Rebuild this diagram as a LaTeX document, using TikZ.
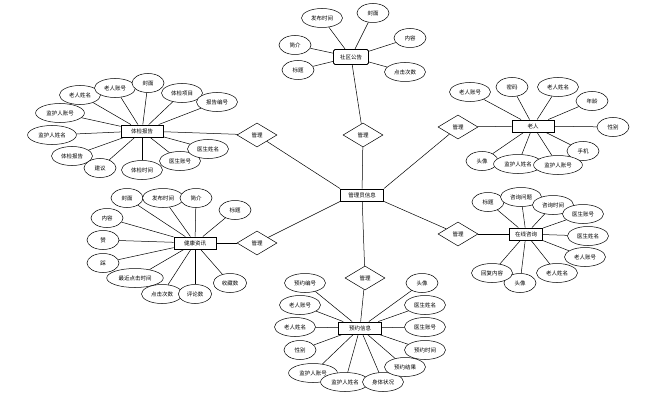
\documentclass[tikz,border=0pt]{standalone}
\usepackage{fontspec}
\newfontfamily\cjk{Noto Sans CJK SC}
\usetikzlibrary{shapes.geometric,positioning}

\begin{document}
\begin{tikzpicture}[x=1pt, y=-1pt, line width=0.5pt, font=\cjk\fontsize{5.5}{6}\selectfont]
   \useasboundingbox (0,0) rectangle (670,404);
   \tikzset{ent/.style={draw, line width=0.9pt, fill=white, minimum width=42pt, minimum height=12pt, inner sep=1pt},
            attr/.style={ellipse, draw, fill=white, minimum width=32pt, minimum height=19pt, inner xsep=3.5pt, inner ysep=0pt},
            rel/.style={diamond, draw, fill=white, minimum width=40pt, minimum height=24pt, inner sep=0pt}}
   % entities and relations
   \node (admin) [ent, minimum width=43pt] at (362,195) {管理员信息};
   \node (notice) [ent, minimum width=35pt, minimum height=15pt, rounded corners=1.5pt] at (351,57) {社区公告};
   \node (elder) [ent] at (533,126) {老人};
   \node (report) [ent] at (142,131) {体检报告};
   \node (news) [ent] at (195,243) {健康资讯};
   \node (consult) [ent, minimum width=33pt] at (526,234) {在线咨询};
   \node (booking) [ent, minimum width=43pt] at (360,328) {预约信息};
   \node (m1) [rel] at (363,135) {管理};
   \node (m2) [rel] at (257,135) {管理};
   \node (m3) [rel] at (257,243) {管理};
   \node (m4) [rel] at (458,127) {管理};
   \node (m5) [rel] at (458,234) {管理};
   \node (m6) [rel] at (365,278) {管理};
   \begin{scope}
    \draw (admin) -- (m1);
    \draw (admin.north west) -- (m2);
    \draw (admin.south west) -- (m3);
    \draw (admin.north east) -- (m4);
    \draw (admin.south east) -- (m5);
    \draw (admin) -- (m6);
    \draw (m1) -- (notice);
    \draw (m2) -- (report);
    \draw (m3) -- (news);
    \draw (m4) -- (elder);
    \draw (m5) -- (consult);
    \draw (m6) -- (booking);
   \end{scope}
   % 社区公告
   \begin{scope}[every node/.style={attr}]
    \node (notice1) at (322,18) {发布时间};
    \node (notice2) at (373,13) {封面};
    \node (notice3) at (295,45) {简介};
    \node (notice4) at (298,70) {标题};
    \node (notice5) at (410,38) {内容};
    \node (notice6) at (405,72) {点击次数};
   \end{scope}
   \foreach \i in {1,...,6} \draw (notice\i) -- (notice);
   % 老人
   \begin{scope}[every node/.style={attr}]
    \node (elder1) at (470,92) {老人账号};
    \node (elder2) at (512,87) {密码};
    \node (elder3) at (558,87) {老人姓名};
    \node (elder4) at (592,101) {年龄};
    \node (elder5) at (613,127) {性别};
    \node (elder6) at (583,151) {手机};
    \node (elder7) at (482,161) {头像};
    \node (elder8) at (518,164) {监护人姓名};
    \node (elder9) at (558,165) {监护人账号};
   \end{scope}
   \foreach \i in {1,...,9} \draw (elder\i) -- (elder);
   % 体检报告
   \begin{scope}[every node/.style={attr}]
    \node (report1) at (80,95) {老人姓名};
    \node (report2) at (115,88) {老人账号};
    \node (report3) at (148,83) {封面};
    \node (report4) at (182,93) {体检项目};
    \node (report5) at (217,102) {报告编号};
    \node (report6) at (60,113) {监护人账号};
    \node (report7) at (52,135) {监护人姓名};
    \node (report8) at (72,156) {体检报告};
    \node (report9) at (100,168) {建议};
    \node (report10) at (142,170) {体检时间};
    \node (report11) at (180,161) {医生账号};
    \node (report12) at (208,149) {医生姓名};
   \end{scope}
   \foreach \i in {1,...,12} \draw (report\i) -- (report);
   % 健康资讯
   \begin{scope}[every node/.style={attr}]
    \node (news1) at (127,198) {封面};
    \node (news2) at (163,198) {发布时间};
    \node (news3) at (196,198) {简介};
    \node (news4) at (235,210) {标题};
    \node (news5) at (107,218) {内容};
    \node (news6) at (103,240) {赞};
    \node (news7) at (103,263) {踩};
    \node (news8) at (135,278) {最近点击时间};
    \node (news9) at (162,294) {点击次数};
    \node (news10) at (195,294) {评论数};
    \node (news11) at (230,283) {收藏数};
   \end{scope}
   \foreach \i in {1,...,11} \draw (news\i) -- (news);
   % 在线咨询
   \begin{scope}[every node/.style={attr}]
    \node (consult1) at (488,202) {标题};
    \node (consult2) at (521,197) {咨询问题};
    \node (consult3) at (553,205) {咨询时间};
    \node (consult4) at (583,214) {医生账号};
    \node (consult5) at (588,236) {医生姓名};
    \node (consult6) at (585,257) {老人账号};
    \node (consult7) at (557,273) {老人姓名};
    \node (consult8) at (520,283) {头像};
    \node (consult9) at (492,273) {回复内容};
   \end{scope}
   \foreach \i in {1,...,9} \draw (consult\i) -- (consult);
   % 预约信息
   \begin{scope}[every node/.style={attr}]
    \node (booking1) at (305,283) {预约编号};
    \node (booking2) at (300,305) {老人账号};
    \node (booking3) at (295,327) {老人姓名};
    \node (booking4) at (300,350) {性别};
    \node (booking5) at (313,373) {监护人账号};
    \node (booking6) at (345,382) {监护人姓名};
    \node (booking7) at (383,382) {身体状况};
    \node (booking8) at (405,367) {预约结果};
    \node (booking9) at (425,350) {预约时间};
    \node (booking10) at (425,327) {医生账号};
    \node (booking11) at (425,305) {医生姓名};
    \node (booking12) at (422,283) {头像};
   \end{scope}
   \foreach \i in {1,...,12} \draw (booking\i) -- (booking);
\end{tikzpicture}
\end{document}
